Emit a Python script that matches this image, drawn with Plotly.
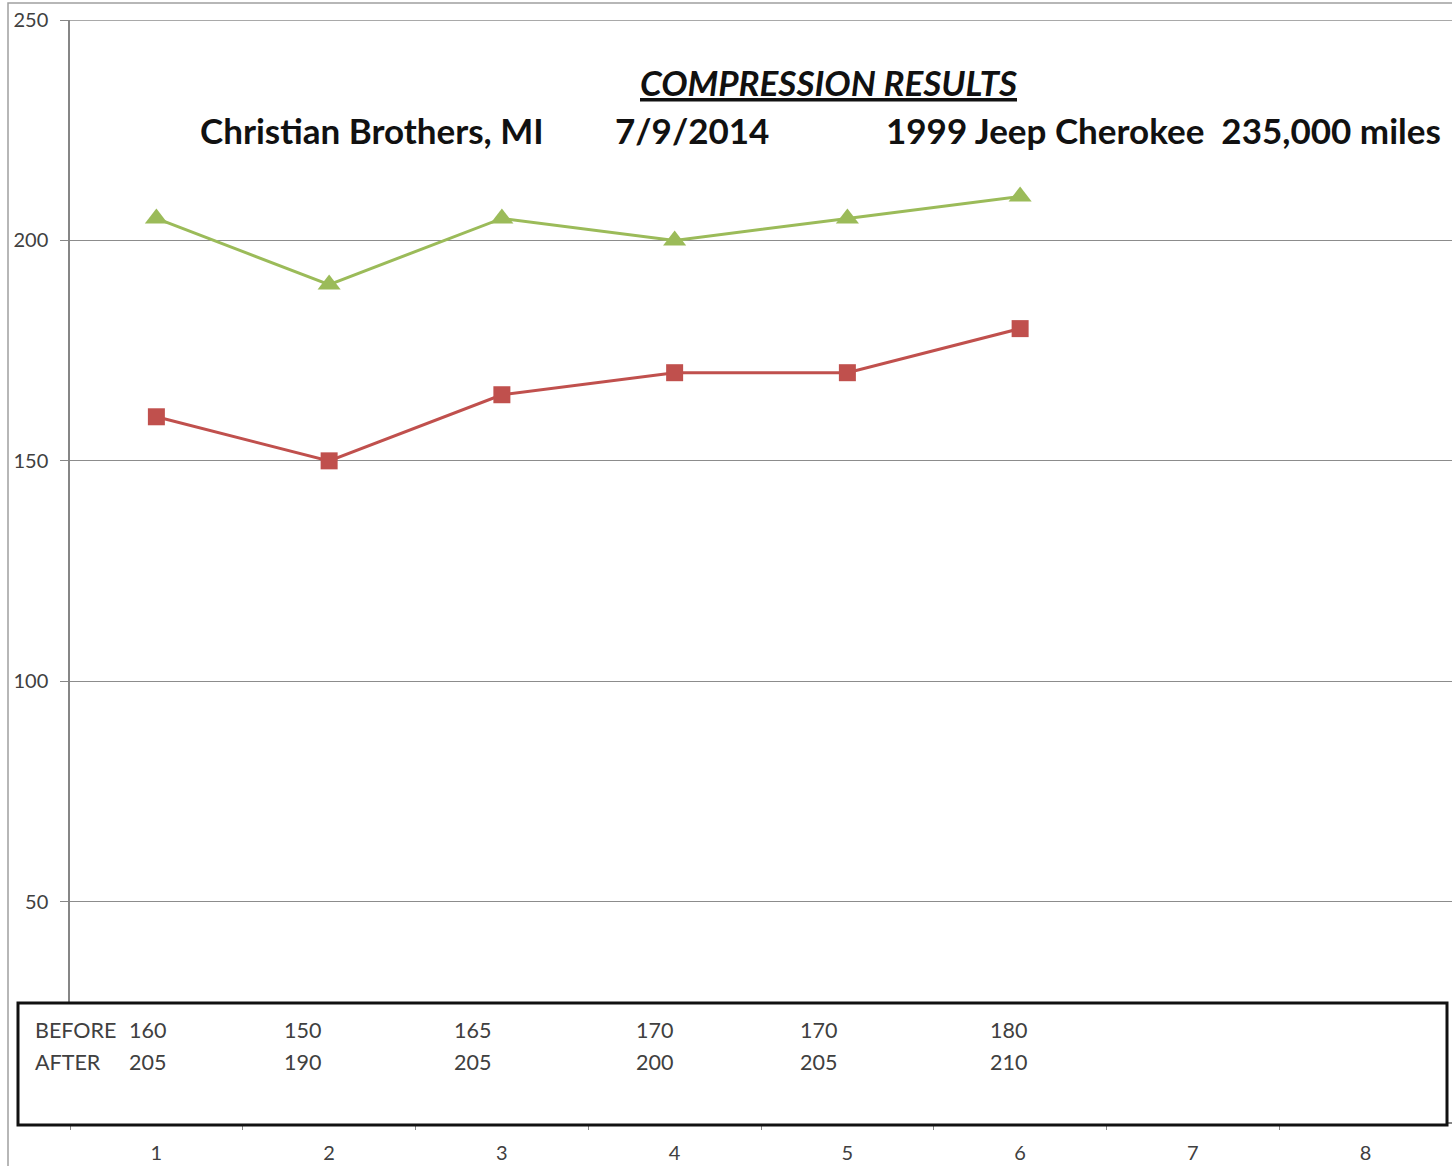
import plotly.graph_objects as go

cylinders = ["1", "2", "3", "4", "5", "6", "7", "8"]
before = [160, 150, 165, 170, 170, 180]
after = [205, 190, 205, 200, 205, 210]
y_ticks = [50, 100, 150, 200, 250]

W, H = 1452, 1166
ML, MR, MT, MB = 70, 0, 20, 44
FONT = "Lato, 'Open Sans', sans-serif"
GRID = "#8c8c8c"

fig = go.Figure()
fig.add_trace(go.Scatter(
    x=cylinders[:len(before)], y=before, mode="lines+markers", name="BEFORE",
    line=dict(color="#C0504D", width=3),
    marker=dict(symbol="square", size=17, color="#C0504D"),
))
fig.add_trace(go.Scatter(
    x=cylinders[:len(after)], y=after, mode="lines+markers", name="AFTER",
    line=dict(color="#9BBB59", width=3),
    marker=dict(symbol="triangle-up", size=20, color="#9BBB59"),
))

fig.update_layout(
    width=W, height=H,
    margin=dict(l=ML, r=MR, t=MT, b=MB, pad=0),
    paper_bgcolor="white", plot_bgcolor="white",
    showlegend=False,
    font=dict(family=FONT, color="#404040"),
    xaxis=dict(
        type="category", categoryorder="array", categoryarray=cylinders,
        range=[-0.5, 7.5], showgrid=False,
        showline=True, linecolor="#868686", linewidth=1.5,
        ticks="outside", tickson="boundaries", ticklen=6, tickcolor="#868686",
        tickfont=dict(size=20, color="#404040"),
        ticklabelstandoff=12,
    ),
    yaxis=dict(
        range=[0, 250.02], tickvals=y_ticks,
        showgrid=True, gridcolor=GRID, gridwidth=1.2,
        showline=True, linecolor="#868686", linewidth=1.5,
        ticks="outside", ticklen=8, tickcolor="#868686",
        tickfont=dict(size=20, color="#404040"),
        ticklabelstandoff=8, zeroline=False,
    ),
)

PW = W - ML - MR
PH = H - MT - MB


def px_to_paper(px, py):
    """page pixel -> paper coordinate"""
    return (px - ML) / PW, (H - MB - py) / PH


shapes = []
bx0, by0 = px_to_paper(8, 3)
shapes.append(dict(type="rect", xref="paper", yref="paper", layer="below",
                   x0=bx0, x1=1.02, y0=-0.2, y1=by0,
                   line=dict(color="#a0a0a0", width=1.5)))
# top gridline (plotly drops the gridline at the range edge)
shapes.append(dict(type="line", xref="paper", yref="y", layer="below",
                   x0=0, x1=1, y0=y_ticks[-1], y1=y_ticks[-1],
                   line=dict(color=GRID, width=1.2)))

titles = [
    ("<b><i><u>COMPRESSION RESULTS</u></i></b>", 829, 82),
    ("<b>Christian Brothers, MI</b>", 372, 130),
    ("<b>7/9/2014</b>", 692, 130),
    ("<b>1999 Jeep Cherokee  235,000 miles</b>", 1163, 130),
]
anns = []
for text, x, y in titles:
    xp, yp = px_to_paper(x, y)
    anns.append(dict(text=text, x=xp, y=yp, xref="paper", yref="paper",
                     showarrow=False, xanchor="center", yanchor="middle",
                     font=dict(size=35, color="#111111", family=FONT)))

# data table box
tx0, ty0 = px_to_paper(18, 1003)
tx1, ty1 = px_to_paper(1447, 1125)
shapes.append(dict(type="rect", xref="paper", yref="paper",
                   x0=tx0, x1=tx1, y0=ty1, y1=ty0, fillcolor="white",
                   line=dict(color="#111111", width=3), layer="above"))

row_label_x = 33
value_x = [127, 282, 452, 634, 798, 988]
for label, vals, py in (("BEFORE", before, 1030), ("AFTER", after, 1062)):
    xp, yp = px_to_paper(row_label_x, py)
    anns.append(dict(text=label, x=xp, y=yp, xref="paper", yref="paper",
                     showarrow=False, xanchor="left", yanchor="middle",
                     font=dict(size=21.5, color="#404040", family=FONT)))
    for vx, v in zip(value_x, vals):
        xp, yp = px_to_paper(vx, py)
        anns.append(dict(text=str(v), x=xp, y=yp, xref="paper", yref="paper",
                         showarrow=False, xanchor="left", yanchor="middle",
                         font=dict(size=21.5, color="#404040", family=FONT)))

fig.update_layout(shapes=shapes, annotations=anns)
fig.write_html(
    "out.html",
    config={"displayModeBar": False},
    post_script=(
        "document.body.style.margin='0';"
        "document.body.style.overflow='hidden';"
        "document.documentElement.style.overflow='hidden';"
    ),
)
